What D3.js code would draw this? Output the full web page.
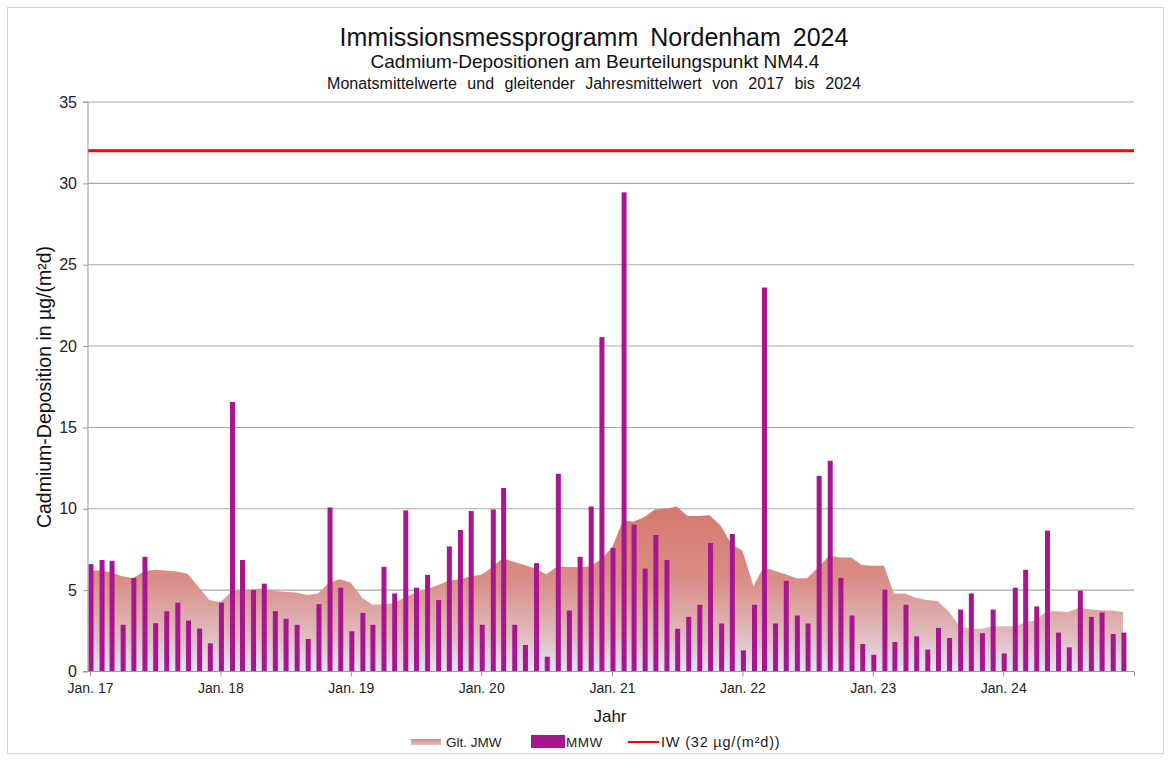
<!DOCTYPE html>
<html>
<head>
<meta charset="utf-8">
<script src="https://cdn.jsdelivr.net/npm/d3@7"></script>
<style>
  html, body { margin: 0; padding: 0; background: #ffffff; }
  svg { display: block; font-family: "Liberation Sans", Arial, sans-serif; }
</style>
</head>
<body>
<svg id="chart" width="1171" height="760"></svg>
<script>
// Monthly mean values (MMW), Jan 2017 .. Dec 2024
const months = d3.range(96).map(i => new Date(2017, i, 1));
const mmw = [
  6.6, 6.85, 6.8, 2.87, 5.75, 7.05, 2.97, 3.7, 4.23, 3.13, 2.64, 1.73,
  4.23, 16.57, 6.85, 5.0, 5.4, 3.71, 3.24, 2.87, 2.0, 4.14, 10.08, 5.15,
  2.47, 3.6, 2.87, 6.43, 4.8, 9.9, 5.15, 5.94, 4.39, 7.69, 8.7, 9.86,
  2.87, 9.96, 11.28, 2.87, 1.63, 6.66, 0.91, 12.15, 3.75, 7.05, 10.14, 20.55,
  7.6, 29.45, 9.03, 6.33, 8.39, 6.85, 2.62, 3.36, 4.1, 7.9, 2.95, 8.45,
  1.3, 4.1, 23.6, 2.95, 5.57, 3.44, 2.95, 12.03, 12.95, 5.75, 3.44, 1.69,
  1.03, 5.03, 1.81, 4.1, 2.16, 1.34, 2.68, 2.06, 3.81, 4.8, 2.35, 3.81,
  1.11, 5.15, 6.25, 4.0, 8.66, 2.39, 1.48, 4.97, 3.36, 3.63, 2.31, 2.39
];
// Rolling annual mean (Glt. JMW)
const jmw = [
  6.2, 6.2, 6.1, 5.85, 5.75, 6.15, 6.25, 6.2, 6.15, 6.0, 5.2, 4.4,
  4.25, 4.9, 5.0, 5.05, 5.1, 4.95, 4.9, 4.85, 4.7, 4.8, 5.45, 5.67,
  5.45, 4.55, 4.12, 4.12, 4.2, 4.55, 4.85, 5.05, 5.3, 5.57, 5.67, 5.84,
  5.95, 6.4, 6.97, 6.74, 6.54, 6.33, 5.98, 6.45, 6.43, 6.4, 6.45, 6.9,
  7.6, 9.3, 9.2, 9.48, 9.96, 10.0, 10.14, 9.55, 9.55, 9.6, 8.97, 7.84,
  7.42, 5.26, 6.4, 6.19, 5.98, 5.73, 5.73, 6.4, 7.11, 7.0, 7.0, 6.54,
  6.5, 6.5, 4.78, 4.8, 4.54, 4.39, 4.33, 3.71, 2.78, 2.62, 2.62, 2.78,
  2.78, 2.78, 2.99, 3.15, 3.71, 3.71, 3.65, 3.92, 3.81, 3.77, 3.75, 3.65
];
const limitValue = 32;
const yTicks = [0, 5, 10, 15, 20, 25, 30, 35];
const xTickLabels = ["Jan. 17", "Jan. 18", "Jan. 19", "Jan. 20", "Jan. 21", "Jan. 22", "Jan. 23", "Jan. 24"];
const titles = [
  "Immissionsmessprogramm Nordenham 2024",
  "Cadmium-Depositionen am Beurteilungspunkt NM4.4",
  "Monatsmittelwerte und gleitender Jahresmittelwert von 2017 bis 2024"
];
const legendLabels = ["Glt. JMW", "MMW", "IW (32 µg/(m²d))"];

const svg = d3.select("#chart");
const pLeft = 88, pRight = 1134, pTop = 102, pBottom = 671.5;

const x = d3.scaleTime()
  .domain([new Date(2017, 0, 1), new Date(2025, 0, 1)])
  .range([90, pRight]);
const y = d3.scaleLinear().domain([0, 35]).range([pBottom, pTop]);

// outer frame
svg.append("rect").attr("x", 7.5).attr("y", 7.5).attr("width", 1156).attr("height", 746)
  .attr("fill", "none").attr("stroke", "#d4d4d4").attr("stroke-width", 1);

// gradient for area
const defs = svg.append("defs");
const grad = defs.append("linearGradient").attr("id", "areaGrad")
  .attr("gradientUnits", "userSpaceOnUse")
  .attr("x1", 0).attr("x2", 0).attr("y1", y(10.2)).attr("y2", y(0));
grad.append("stop").attr("offset", 0).attr("stop-color", "#d6786e");
grad.append("stop").attr("offset", 0.45).attr("stop-color", "#da8d86");
grad.append("stop").attr("offset", 0.8).attr("stop-color", "#e0bec2");
grad.append("stop").attr("offset", 1).attr("stop-color", "#e4e5f6");
const lgrad = defs.append("linearGradient").attr("id", "legGrad")
  .attr("x1", 0).attr("x2", 0).attr("y1", 0).attr("y2", 1);
lgrad.append("stop").attr("offset", 0).attr("stop-color", "#d98b83");
lgrad.append("stop").attr("offset", 1).attr("stop-color", "#e2c0c4");

// gridlines
svg.append("g").selectAll("line").data(yTicks.filter(d => d > 0)).join("line")
  .attr("x1", pLeft).attr("x2", pRight)
  .attr("y1", d => y(d)).attr("y2", d => y(d))
  .attr("stroke", "#a8a8a8").attr("stroke-width", 1.1);

// area
const area = d3.area()
  .x((d, i) => x(months[i]))
  .y0(y(0))
  .y1(d => y(d));
svg.append("path").datum(jmw).attr("d", area).attr("fill", "url(#areaGrad)");

// bars
const bw = 5;
svg.append("g").selectAll("rect").data(mmw).join("rect")
  .attr("x", (d, i) => x(months[i]) - bw / 2 + 1)
  .attr("width", bw)
  .attr("y", d => y(d))
  .attr("height", d => y(0) - y(d))
  .attr("fill", "#a8168f");

// limit line
svg.append("line")
  .attr("x1", pLeft).attr("x2", pRight)
  .attr("y1", y(limitValue)).attr("y2", y(limitValue))
  .attr("stroke", "#ff0000").attr("stroke-width", 3);

// y axis
const yAxis = d3.axisLeft(y).tickValues(yTicks).tickSize(5).tickPadding(6);
const gy = svg.append("g").attr("transform", `translate(${pLeft},0)`).call(yAxis);
gy.select(".domain").attr("stroke", "#999").attr("d", `M-5,${pTop}H0V${pBottom}H-5`);
gy.selectAll(".tick line").attr("stroke", "#999");
gy.selectAll("text").attr("font-size", 16).attr("fill", "#222")
  .attr("font-family", "Liberation Sans, Arial, sans-serif");

// x axis
const yearTicks = d3.range(9).map(i => new Date(2017 + i, 0, 1));
const xAxis = d3.axisBottom(x).tickValues(yearTicks).tickSize(5)
  .tickFormat((d, i) => xTickLabels[i] || "");
const gx = svg.append("g").attr("transform", `translate(0,${pBottom})`).call(xAxis);
gx.select(".domain").attr("stroke", "#999").attr("d", `M${pLeft},0H${pRight}`);
gx.selectAll(".tick line").attr("stroke", "#999");
gx.selectAll("text").attr("font-size", 14).attr("fill", "#222").attr("dy", "0.95em")
  .attr("font-family", "Liberation Sans, Arial, sans-serif");

// titles
svg.append("text").attr("x", 594).attr("y", 46).attr("text-anchor", "middle")
  .attr("font-size", 25).attr("word-spacing", 5).attr("fill", "#111").text(titles[0]);
svg.append("text").attr("x", 595).attr("y", 68).attr("text-anchor", "middle")
  .attr("font-size", 19).attr("fill", "#111").text(titles[1]);
svg.append("text").attr("x", 594).attr("y", 89).attr("text-anchor", "middle")
  .attr("font-size", 16).attr("word-spacing", 6).attr("fill", "#111").text(titles[2]);

// axis titles
svg.append("text").attr("transform", "translate(51,387) rotate(-90)")
  .attr("text-anchor", "middle").attr("font-size", 19.5).attr("fill", "#111")
  .text("Cadmium-Deposition in µg/(m²d)");
svg.append("text").attr("x", 610).attr("y", 722).attr("text-anchor", "middle")
  .attr("font-size", 17).attr("fill", "#111").text("Jahr");

// legend
const lg = svg.append("g").attr("font-size", 13.5).attr("fill", "#222");
lg.append("rect").attr("x", 411).attr("y", 739).attr("width", 30).attr("height", 6).attr("fill", "url(#legGrad)");
lg.append("text").attr("x", 446).attr("y", 747).text(legendLabels[0]);
lg.append("rect").attr("x", 531).attr("y", 735).attr("width", 34).attr("height", 13).attr("fill", "#a8168f");
lg.append("text").attr("x", 566).attr("y", 747).attr("letter-spacing", 0.5).text(legendLabels[1]);
lg.append("line").attr("x1", 628).attr("x2", 659).attr("y1", 742).attr("y2", 742)
  .attr("stroke", "#ff0000").attr("stroke-width", 2);
lg.append("text").attr("x", 661).attr("y", 747).attr("font-size", 14.5).attr("letter-spacing", 0.8).text(legendLabels[2]);
</script>
</body>
</html>
